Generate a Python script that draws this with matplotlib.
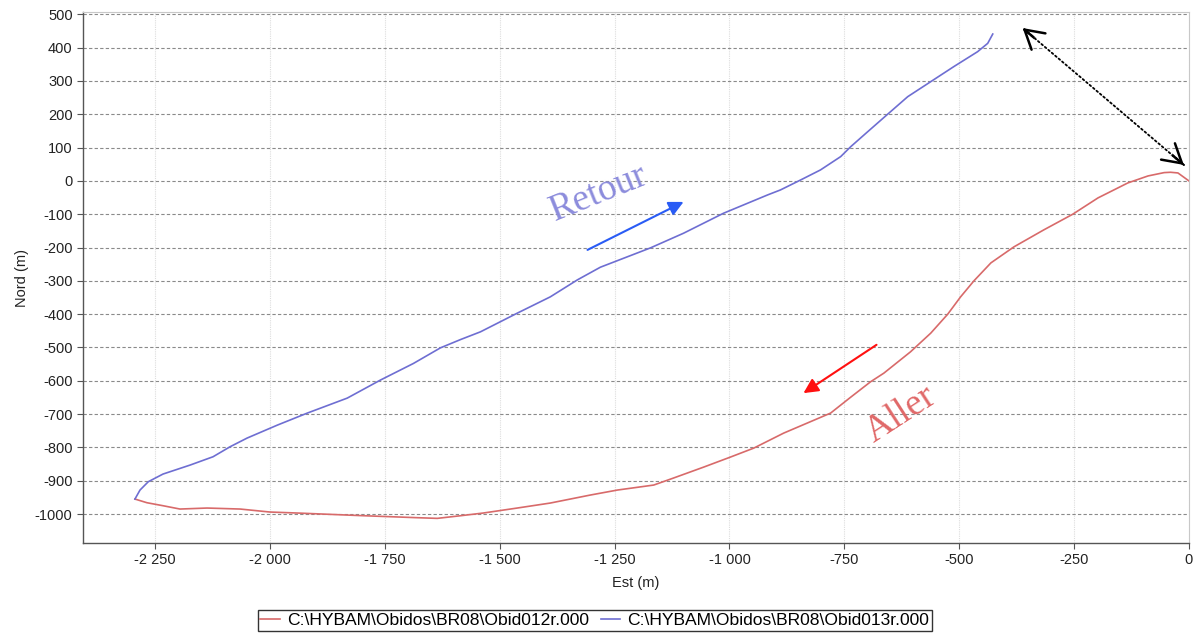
import matplotlib
matplotlib.use("Agg")
import matplotlib.pyplot as plt
from matplotlib.ticker import FixedLocator, FuncFormatter

# Boat track, outbound transect (Aller): East (m), North (m)
aller_est = [0, -24, -40, -54, -89, -133, -185, -198, -253, -316, -381,
             -431, -468, -497, -525, -562, -606, -664, -693, -736, -780, -882,
             -947, -998, -1056, -1122, -1165, -1244, -1303, -1390, -1462,
             -1536, -1585, -1636, -1679, -1797, -1940, -2000, -2065, -2137,
             -2196, -2233, -2268, -2294]
aller_nord = [0, 24, 26, 25, 15, -6, -42, -51, -100, -147, -198,
              -246, -300, -348, -400, -457, -513, -577, -603, -649, -697, -757,
              -802, -829, -859, -892, -913, -928, -943, -967, -982,
              -997, -1005, -1013, -1011, -1005, -997, -994, -985, -982,
              -985, -975, -966, -955]

# Return transect (Retour)
retour_est = [-2294, -2283, -2265, -2233, -2174, -2124, -2087, -2050, -1984,
              -1919, -1832, -1760, -1688, -1629, -1585, -1542, -1462,
              -1390, -1331, -1281, -1172, -1100, -1013, -917, -889, -845,
              -802, -758, -736, -699, -656, -612, -562, -512, -460, -438, -427]
retour_nord = [-955, -928, -903, -880, -853, -828, -798, -772, -733,
               -697, -652, -598, -548, -501, -476, -453, -397,
               -348, -297, -259, -201, -157, -97, -42, -27, 3,
               33, 73, 103, 148, 200, 253, 298, 343, 388, 413, 441]

legend_labels = [r"C:\HYBAM\Obidos\BR08\Obid012r.000",
                 r"C:\HYBAM\Obidos\BR08\Obid013r.000"]
x_ticks = [-2250, -2000, -1750, -1500, -1250, -1000, -750, -500, -250, 0]
y_ticks = [500, 400, 300, 200, 100, 0, -100, -200, -300, -400, -500,
           -600, -700, -800, -900, -1000]

plt.rcParams['font.family'] = ['Liberation Sans', 'DejaVu Sans']

fig = plt.figure(figsize=(11.93, 6.34), dpi=100)
ax = fig.add_axes([0.0696, 0.1435, 0.9270, 0.8375])

red = '#d86a6a'
blue = '#6e6ed2'
l1, = ax.plot(aller_est, aller_nord, color=red, lw=1.2, label=legend_labels[0])
l2, = ax.plot(retour_est, retour_nord, color=blue, lw=1.2, label=legend_labels[1])

ax.set_xlim(-2407, 0)
ax.set_ylim(-1087, 507)

ax.xaxis.set_major_locator(FixedLocator(x_ticks))
ax.yaxis.set_major_locator(FixedLocator(y_ticks))


def fmt_thousands(v, pos):
    v = int(round(v))
    s = f"{abs(v):,}".replace(",", " ")
    return ("-" if v < 0 else "") + s


ax.xaxis.set_major_formatter(FuncFormatter(fmt_thousands))
ax.yaxis.set_major_formatter(FuncFormatter(lambda v, p: f"{int(round(v))}"))

ax.tick_params(axis='both', direction='out', length=4, width=0.8,
               color='#555555', labelsize=10.5, labelcolor='#222222')

# Grid: dashed horizontal rules, faint vertical rules
ax.grid(axis='y', linestyle=(0, (3, 2)), color='#8a8a8a', lw=0.8)
ax.grid(axis='x', linestyle=(0, (1, 1)), color='#dddddd', lw=0.8)
ax.set_axisbelow(True)

for side in ['left', 'bottom']:
    ax.spines[side].set_color('#555555')
    ax.spines[side].set_linewidth(1.0)
for side in ['top', 'right']:
    ax.spines[side].set_color('#c8c8c8')
    ax.spines[side].set_linewidth(0.8)

ax.set_xlabel("Est (m)", fontsize=10.5, color='#222222', labelpad=6)
ax.set_ylabel("Nord (m)", fontsize=10.5, color='#222222', labelpad=4)

# Direction annotations
ax.text(-1285, -36, "Retour", family=['Liberation Serif', 'DejaVu Serif'],
        fontsize=27, color='#8c8cdc', rotation=22, ha='center', va='center',
        rotation_mode='anchor')
ax.text(-627, -702, "Aller", family=['Liberation Serif', 'DejaVu Serif'],
        fontsize=27, color='#e06868', rotation=33, ha='center', va='center',
        rotation_mode='anchor')

ax.annotate("", xy=(-1100, -63), xytext=(-1309, -207),
            arrowprops=dict(arrowstyle='-|>', color='#2a5cf5', lw=1.5,
                            mutation_scale=22, shrinkA=0, shrinkB=0))
ax.annotate("", xy=(-839, -637), xytext=(-680, -492),
            arrowprops=dict(arrowstyle='-|>', color='#ff1010', lw=1.5,
                            mutation_scale=22, shrinkA=0, shrinkB=0))

# Gap between the start of the outbound and the end of the return:
# dotted shaft with open solid heads at both ends
gap_a = (-362, 459)
gap_b = (-11, 48)
ax.annotate("", xy=gap_a, xytext=gap_b,
            arrowprops=dict(arrowstyle='-', color='black', lw=1.3,
                            linestyle=(0, (1, 1.5)), shrinkA=0, shrinkB=0))
for tip, other in [(gap_a, gap_b), (gap_b, gap_a)]:
    stub = (tip[0] + 0.08 * (other[0] - tip[0]),
            tip[1] + 0.08 * (other[1] - tip[1]))
    ax.annotate("", xy=tip, xytext=stub,
                arrowprops=dict(arrowstyle='->,head_length=0.6,head_width=0.35',
                                color='black', lw=1.8, linestyle='solid',
                                mutation_scale=22, shrinkA=0, shrinkB=0),
                annotation_clip=False)
# hide the short solid stubs under the heads by redrawing the dotted shaft on top
ax.annotate("", xy=gap_a, xytext=gap_b,
            arrowprops=dict(arrowstyle='-', color='white', lw=2.2,
                            shrinkA=12, shrinkB=12))
ax.annotate("", xy=gap_a, xytext=gap_b,
            arrowprops=dict(arrowstyle='-', color='black', lw=1.3,
                            linestyle=(0, (1, 1.5)), shrinkA=0, shrinkB=0))

leg = fig.legend(handles=[l1, l2], loc='center', bbox_to_anchor=(0.4985, 0.0215),
                 ncol=2, fontsize=12.6, frameon=True, fancybox=False,
                 edgecolor='black', handlelength=1.1, handletextpad=0.4,
                 columnspacing=0.7, borderpad=0.15, borderaxespad=0)
leg.get_frame().set_linewidth(1.0)

fig.savefig("out.png", dpi=100)
